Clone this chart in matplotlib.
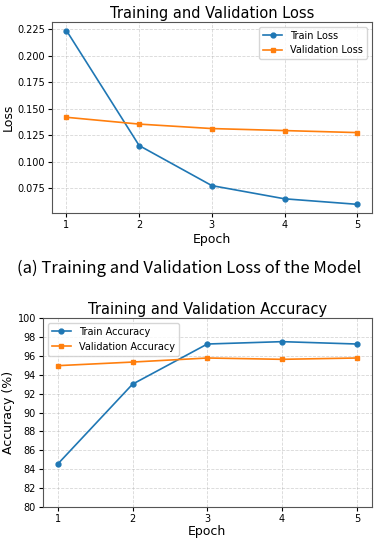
import matplotlib
matplotlib.use('Agg')
import matplotlib.pyplot as plt

# datos
epocas = [1, 2, 3, 4, 5]
train_loss = [0.2235, 0.1153, 0.0776, 0.0652, 0.0600]
val_loss = [0.1419, 0.1355, 0.1313, 0.1294, 0.1275]
train_acc = [84.55, 93.0, 97.25, 97.5, 97.25]
val_acc = [94.96, 95.34, 95.77, 95.63, 95.77]
acc_ticks = list(range(80, 101, 2))

fig = plt.figure(figsize=(3.79, 5.43), dpi=100)

# perdida
ax1 = fig.add_axes([0.137, 0.6077, 0.844, 0.352])
ax1.plot(epocas, train_loss, marker='o', markersize=3.5, linewidth=1.2, label='Train Loss')
ax1.plot(epocas, val_loss, marker='s', markersize=3.5, linewidth=1.2, label='Validation Loss')
ax1.set_title('Training and Validation Loss', fontsize=10.5, pad=3)
ax1.set_xlabel('Epoch', fontsize=9, labelpad=2)
ax1.set_ylabel('Loss', fontsize=9, labelpad=2)
ax1.set_xticks(epocas)
ax1.set_yticks([0.075, 0.100, 0.125, 0.150, 0.175, 0.200, 0.225])
ax1.tick_params(labelsize=7, length=3, pad=2)
ax1.grid(True, linestyle='--', alpha=0.5, linewidth=0.6)
ax1.legend(fontsize=7, loc='upper right')

# caption
fig.text(0.5, 1 - 268 / 543, '(a) Training and Validation Loss of the Model',
         ha='center', va='center', fontsize=12, family=['Noto Sans CJK KR', 'DejaVu Sans'])

# precision
ax2 = fig.add_axes([0.113, 0.0663, 0.868, 0.348])
ax2.plot(epocas, train_acc, marker='o', markersize=3.5, linewidth=1.2, label='Train Accuracy')
ax2.plot(epocas, val_acc, marker='s', markersize=3.5, linewidth=1.2, label='Validation Accuracy')
ax2.set_title('Training and Validation Accuracy', fontsize=10.5, pad=3)
ax2.set_xlabel('Epoch', fontsize=9, labelpad=1)
ax2.set_ylabel('Accuracy (%)', fontsize=9, labelpad=2)
ax2.set_xticks(epocas)
ax2.set_yticks(acc_ticks)
ax2.set_ylim(80, 100)
ax2.tick_params(labelsize=7, length=3, pad=2)
ax2.grid(True, linestyle='--', alpha=0.5, linewidth=0.6)
ax2.legend(fontsize=7, loc='upper left')

for ax in (ax1, ax2):
    for s in ax.spines.values():
        s.set_color('#555555')

fig.savefig('out.png', dpi=100)
